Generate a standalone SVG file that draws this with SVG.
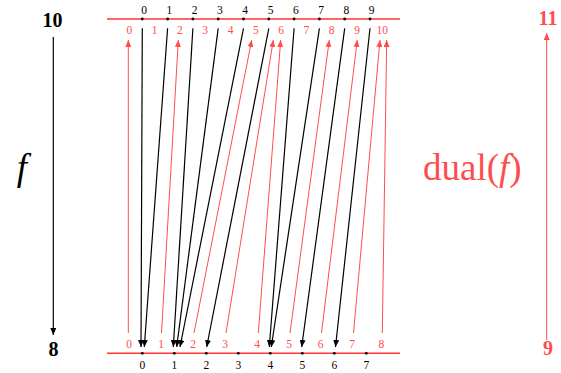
<svg xmlns="http://www.w3.org/2000/svg" width="561" height="373" viewBox="0 0 561 373">
<defs>
<style>
text{font-family:"Liberation Serif","DejaVu Serif",serif}
.t{font-size:11.5px;text-anchor:middle}
.k{fill:#000}
.r{fill:#ff4d4d}
.big{font-weight:bold;font-size:20px;text-anchor:middle}
.fn{font-style:italic;font-size:37px;text-anchor:middle}
.du{font-size:37px}
.it{font-style:italic}
.bl{stroke:#000;stroke-width:1.2;fill:none;marker-end:url(#ak)}
.rl{stroke:#ff4d4d;stroke-width:1;fill:none;marker-end:url(#ar)}
.axis{stroke:#ff3333;stroke-width:1.4}
</style>
<marker id="ak" viewBox="0 0 7 6" refX="7" refY="3" markerWidth="7" markerHeight="6" markerUnits="userSpaceOnUse" orient="auto"><path d="M0,0 L7,3 L0,6 z" fill="#000"/></marker>
<marker id="ar" viewBox="0 0 7 6" refX="7" refY="3" markerWidth="7" markerHeight="6" markerUnits="userSpaceOnUse" orient="auto"><path d="M0,0 L7,3 L0,6 z" fill="#ff4d4d"/></marker>
</defs>

<g id="axes">
<line class="axis" x1="107" y1="19" x2="400" y2="19"/>
<line class="axis" x1="107" y1="353.3" x2="400" y2="353.3"/>
</g>

<g id="top-dots" fill="#000">
<circle cx="142.3" cy="19" r="1.4"/><circle cx="167.6" cy="19" r="1.4"/><circle cx="192.9" cy="19" r="1.4"/><circle cx="218.2" cy="19" r="1.4"/><circle cx="243.5" cy="19" r="1.4"/><circle cx="268.8" cy="19" r="1.4"/><circle cx="294.1" cy="19" r="1.4"/><circle cx="319.4" cy="19" r="1.4"/><circle cx="344.7" cy="19" r="1.4"/><circle cx="370" cy="19" r="1.4"/>
</g>
<g id="bottom-dots" fill="#000">
<circle cx="142.3" cy="353.3" r="1.4"/><circle cx="174.3" cy="353.3" r="1.4"/><circle cx="206.3" cy="353.3" r="1.4"/><circle cx="238.3" cy="353.3" r="1.4"/><circle cx="270.3" cy="353.3" r="1.4"/><circle cx="302.3" cy="353.3" r="1.4"/><circle cx="334.3" cy="353.3" r="1.4"/><circle cx="366.3" cy="353.3" r="1.4"/>
</g>

<g id="top-labels" class="t k">
<text x="144" y="14">0</text><text x="169.3" y="14">1</text><text x="194.6" y="14">2</text><text x="219.9" y="14">3</text><text x="245.2" y="14">4</text><text x="270.5" y="14">5</text><text x="295.8" y="14">6</text><text x="321.1" y="14">7</text><text x="346.4" y="14">8</text><text x="371.7" y="14">9</text>
</g>
<g id="top-red-labels" class="t r">
<text x="129.3" y="34">0</text><text x="154.6" y="34">1</text><text x="179.9" y="34">2</text><text x="205.2" y="34">3</text><text x="230.5" y="34">4</text><text x="255.8" y="34">5</text><text x="281.1" y="34">6</text><text x="306.4" y="34">7</text><text x="331.7" y="34">8</text><text x="357" y="34">9</text><text x="382.3" y="34">10</text>
</g>
<g id="bottom-labels" class="t k">
<text x="142.3" y="369">0</text><text x="174.3" y="369">1</text><text x="206.3" y="369">2</text><text x="238.3" y="369">3</text><text x="270.3" y="369">4</text><text x="302.3" y="369">5</text><text x="334.3" y="369">6</text><text x="366.3" y="369">7</text>
</g>
<g id="bottom-red-labels" class="t r">
<text x="129" y="348">0</text><text x="161" y="348">1</text><text x="193" y="348">2</text><text x="225" y="348">3</text><text x="257" y="348">4</text><text x="289" y="348">5</text><text x="320.5" y="348">6</text><text x="352" y="348">7</text><text x="381.3" y="348">8</text>
</g>

<g id="connectors">
<line class="bl" x1="142.3" y1="28.3" x2="141" y2="347"/>
<line class="bl" x1="167.6" y1="28.3" x2="144.3" y2="347"/>
<line class="bl" x1="192.9" y1="28.3" x2="173.3" y2="347"/>
<line class="bl" x1="218.2" y1="28.3" x2="176.7" y2="347"/>
<line class="bl" x1="243.5" y1="28.3" x2="180" y2="347"/>
<line class="bl" x1="268.8" y1="28.3" x2="206.7" y2="347"/>
<line class="bl" x1="294.1" y1="28.3" x2="269.3" y2="347"/>
<line class="bl" x1="319.4" y1="28.3" x2="271.3" y2="347"/>
<line class="bl" x1="344.7" y1="28.3" x2="301.7" y2="347"/>
<line class="bl" x1="370" y1="28.3" x2="335.5" y2="347"/>

<line class="rl" x1="128.3" y1="333" x2="128.3" y2="40"/>
<line class="rl" x1="161.5" y1="333" x2="178.3" y2="40"/>
<line class="rl" x1="194" y1="333" x2="251.7" y2="40"/>
<line class="rl" x1="226" y1="333" x2="273.3" y2="40"/>
<line class="rl" x1="258.3" y1="333" x2="280.7" y2="40"/>
<line class="rl" x1="290" y1="333" x2="329.3" y2="40"/>
<line class="rl" x1="321.5" y1="333" x2="357.3" y2="40"/>
<line class="rl" x1="353.5" y1="333" x2="380" y2="40"/>
<line class="rl" x1="382.3" y1="333" x2="386.7" y2="40"/>

<line class="bl" x1="53.3" y1="37" x2="53.3" y2="335"/>
<line class="rl" x1="546.7" y1="340" x2="546.7" y2="33"/>
</g>

<g id="left-node">
<text class="big k" x="52.5" y="27">10</text>
<text class="big k" x="53.5" y="356">8</text>
<text class="fn k" x="22" y="180">f</text>
</g>
<g id="right-node">
<text class="big r" x="548" y="25">11</text>
<text class="big r" x="548" y="355">9</text>
<text class="du r" x="423" y="180">dual(<tspan class="it">f</tspan>)</text>
</g>
</svg>
